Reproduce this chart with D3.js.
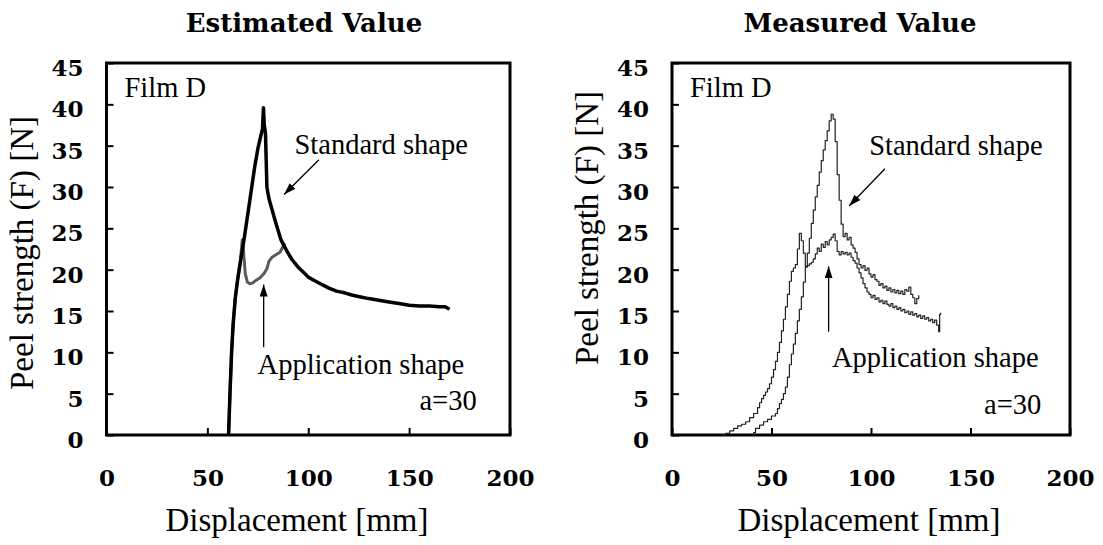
<!DOCTYPE html>
<html lang="en">
  <head>
    <meta charset="utf-8">
    <title>Peel strength</title>
    <script type="text/javascript" src="https://d3js.org/d3.v7.min.js"></script>
    <style type="text/css">
      body { margin: 0; background: #fff; }
      .tick text { font-family: "DejaVu Serif", serif; font-weight: bold; font-size: 23px; fill: #000; }
      .tick line { stroke: #000; stroke-width: 2; }
      .axis path { display: none; }
      .title { font-family: "DejaVu Serif", serif; font-weight: bold; font-size: 26px; }
      .label { font-family: "Liberation Serif", serif; font-size: 33px; }
      .note { font-family: "Liberation Serif", serif; font-size: 28.5px; }
    </style>
  </head>
  <body>
    <script type="text/javascript">
      var w = 1103, h = 545;

      var xTicks = [0, 50, 100, 150, 200];
      var yTicks = [0, 5, 10, 15, 20, 25, 30, 35, 40, 45];

      // Estimated value [displacement, force]
      var estStandard = [[60.5,0],[61.2,5],[62,10],[62.8,13.5],[63.8,16.5],[65,18.8],[66.2,20.7],[67.5,22.6],
        [69,25],[70.5,27.5],[72,30],[73.5,32.5],[75,34.6],[76.3,36],[77.3,37],[77.8,39.6],[78.2,37.5],
        [78.8,36.5],[79.5,30],[80.5,28.6],[82,27.3],[83.5,26],[85,24.8],[86.5,23.6],[88,22.9],[90,22],
        [92,21.2],[95,20.3],[98,19.6],[100,19.1],[103,18.7],[106,18.3],[110,17.8],[114,17.4],[118,17.2],
        [122,16.9],[126,16.7],[130,16.5],[135,16.3],[140,16.1],[145,15.9],[150,15.7],[155,15.6],
        [160,15.6],[165,15.5],[168,15.5],[170,15.2]];
      var estApplication = [[60.5,0],[61.2,5],[62,10],[62.8,13.5],[63.8,16.5],[65,18.8],[66.2,20.7],
        [67.3,23.6],[67.8,22.5],[68.8,19.5],[69.8,18.5],[71,18.3],[72.5,18.4],[74,18.7],[76,19],
        [78,19.5],[79.5,20.1],[80.5,21],[82,21.5],[84,21.8],[86,22.1],[87.5,22.8],[88.5,23.2]];

      var measStandard = [[40,0],[41,0.3],[42,0.8],[44,1.2],[46,1.6],[48,1.9],[50,2.3],[52,2.6],[53,3.2],
        [54,3.8],[55,4.3],[56,5],[57,5.8],[58,7],[59,8.5],[60,9.8],[61,11],[62,12.3],[63,13.8],[64,15.2],
        [65,16.7],[66,18.5],[67,20.3],[68,22],[69,23.8],[70,25.6],[71,27.2],[72,28.8],[73,30.2],[74,31.8],
        [75,33.2],[76,34.5],[77,35.6],[78,36.8],[79,38],[80,38.8],[81,38.2],[82,35.5],[83,31.5],[84,28.4],
        [85,25.5],[86,24],[87,24.4],[88,23.6],[89,23.9],[90,23],[91,22.6],[92,22.1],[93,21.3],[94,20.6],
        [95,20.2],[96,20.5],[97,19.9],[98,20.2],[99,19.5],[100,19.1],[101,19.4],[102,18.8],[103,18.6],
        [104,18.1],[105,18.3],[106,17.8],[107,18],[108,17.5],[109,17.8],[110,17.3],[111,17.6],[112,17.2],
        [113,17.5],[114,17.1],[115,17.4],[116,17],[117,17.6],[118,17.4],[119,17.9],[120,17],[121,16.6],
        [122,15.9],[123,16.5],[124,16.9]];
      var measApplication = [[25,0],[27,0.2],[29,0.5],[31,0.8],[33,1.1],[35,1.3],[37,1.6],[39,2.1],[41,2.6],
        [43,3.3],[44,3.9],[45,4.4],[46,4.8],[47,5.2],[48,5.6],[49,6.2],[50,7],[51,7.9],[52,8.9],[53,10],
        [54,11.2],[55,12.6],[56,14],[57,15.5],[58,17],[59,18.6],[60,19.8],[61,20.2],[62,20.6],[63,22.5],
        [64,24.4],[65,23.5],[66,22],[67,20.4],[68,20.5],[69,20.7],[70,20.9],[71,21.3],[72,21.9],[73,22.6],
        [74,22.2],[75,23.1],[76,22.7],[77,23.4],[78,23],[79,23.6],[80,23.9],[81,24.3],[82,23.5],[83,22.2],
        [84,21.8],[85,22.2],[86,21.9],[87,22.1],[88,21.8],[89,22],[90,21.5],[91,21.1],[92,20.8],[93,20.2],
        [94,19.6],[95,19],[96,18.3],[97,17.8],[98,17.3],[99,17],[100,16.6],[101,16.9],[102,16.4],[103,16.6],
        [104,16.1],[105,16.3],[106,15.9],[107,16.2],[108,15.8],[109,15.6],[110,15.9],[111,15.4],[112,15.6],
        [113,15.2],[114,15.4],[115,15],[116,15.2],[117,14.8],[118,15],[119,14.6],[120,14.9],[121,14.5],
        [122,14.7],[123,14.3],[124,14.5],[125,14.1],[126,14.4],[127,14],[128,14.2],[129,13.8],[130,14],
        [131,13.6],[132,13.9],[133,13.3],[134,12.5],[134.5,14.6],[135,14.8]];

      var svg = d3.select("body").append("svg").attr("width", w).attr("height", h);

      // arrow head
      svg.append("defs").append("marker")
          .attr("id", "head")
          .attr("viewBox", "0 0 12 8")
          .attr("refX", 12).attr("refY", 4)
          .attr("markerWidth", 12).attr("markerHeight", 8)
          .attr("markerUnits", "userSpaceOnUse")
          .attr("orient", "auto")
        .append("path").attr("d", "M0,0L12,4L0,8Z").attr("fill", "#000");

      var panels = [
        {title: "Estimated Value", titleX: 304, left: 106.5, right: 510, yTitleX: 33, yTitleY: 253, xTitleX: 297,
         series: [{d: estApplication, color: "#5a5a5a", width: 3, curve: d3.curveLinear},
                  {d: estStandard, color: "#000", width: 3.5, curve: d3.curveLinear}],
         std: [93.2, 34.0], stdArrow: [[105.3, 33.3], [88, 29.1]],
         app: [74.9, 7.4], appArrow: [[77.9, 10.6], [77.9, 18.2]], a: [183.5, 3.0]},
        {title: "Measured Value", titleX: 860, left: 672, right: 1070, yTitleX: 598, yTitleY: 228, xTitleX: 869,
         series: [{d: measApplication, color: "#222", width: 1.2, curve: d3.curveStepAfter},
                  {d: measStandard, color: "#222", width: 1.2, curve: d3.curveStepAfter}],
         std: [99.1, 33.9], stdArrow: [[107, 32.2], [89, 27.7]],
         app: [80.4, 8.25], appArrow: [[78.7, 12.5], [78.7, 20.4]], a: [185.6, 2.5]}
      ];

      var plotTop = 63, plotBottom = 435;

      panels.forEach(function(p) {
        var x = d3.scaleLinear().domain([0, 200]).range([p.left, p.right]);
        var y = d3.scaleLinear().domain([0, 45]).range([plotBottom, plotTop]);
        var g = svg.append("g");

        g.append("text").attr("class", "title")
            .attr("x", p.titleX).attr("y", 32).attr("text-anchor", "middle").text(p.title);

        g.append("g").attr("class", "axis")
            .attr("transform", "translate(" + p.left + ",0)")
            .call(d3.axisLeft(y).tickValues(yTicks).tickSizeInner(-7).tickSizeOuter(0).tickPadding(23))
            .selectAll("text").attr("dy", "0.55em");
        g.append("g").attr("class", "axis")
            .attr("transform", "translate(0," + plotBottom + ")")
            .call(d3.axisBottom(x).tickValues(xTicks).tickSizeInner(-7).tickSizeOuter(0).tickPadding(35));

        g.append("rect")
            .attr("x", p.left).attr("y", plotTop)
            .attr("width", p.right - p.left).attr("height", plotBottom - plotTop)
            .attr("fill", "none").attr("stroke", "#000").attr("stroke-width", 3);

        p.series.forEach(function(s) {
          var line = d3.line().x(function(d) { return x(d[0]); }).y(function(d) { return y(d[1]); }).curve(s.curve);
          g.append("path").datum(s.d)
              .attr("d", line)
              .attr("fill", "none")
              .attr("stroke", s.color)
              .attr("stroke-width", s.width)
              .attr("stroke-linejoin", "round");
        });

        // notes
        g.append("text").attr("class", "note").attr("x", x(0) + 18).attr("y", 96.5).text("Film D");
        g.append("text").attr("class", "note").attr("x", x(p.std[0])).attr("y", y(p.std[1])).text("Standard shape");
        g.append("text").attr("class", "note").attr("x", x(p.app[0])).attr("y", y(p.app[1])).text("Application shape");
        g.append("text").attr("class", "note").attr("x", x(p.a[0])).attr("y", y(p.a[1]))
            .attr("text-anchor", "end").text("a=30");

        [p.stdArrow, p.appArrow].forEach(function(a) {
          g.append("line")
              .attr("x1", x(a[0][0])).attr("y1", y(a[0][1]))
              .attr("x2", x(a[1][0])).attr("y2", y(a[1][1]))
              .attr("stroke", "#000").attr("stroke-width", 1.3)
              .attr("marker-end", "url(#head)");
        });

        // axis titles
        g.append("text").attr("class", "label")
            .attr("x", p.xTitleX).attr("y", 531).attr("text-anchor", "middle").text("Displacement [mm]");
        g.append("text").attr("class", "label")
            .attr("transform", "translate(" + p.yTitleX + "," + p.yTitleY + ") rotate(-90)")
            .attr("text-anchor", "middle").text("Peel strength (F) [N]");
      });
    </script>
  </body>
</html>
